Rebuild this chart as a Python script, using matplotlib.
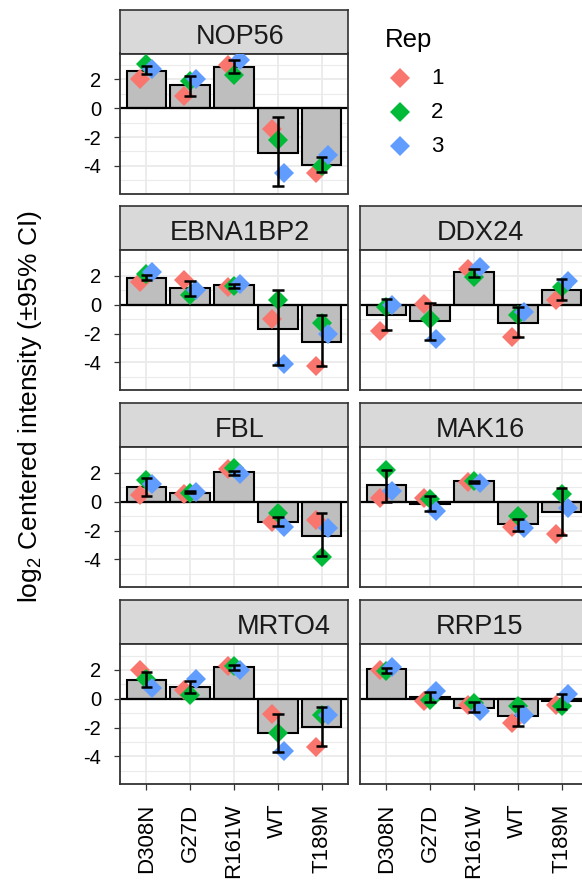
import matplotlib
matplotlib.use("Agg")
import matplotlib.pyplot as plt
import numpy as np

plt.rcParams['font.family'] = ['Liberation Sans', 'DejaVu Sans']
plt.rcParams['mathtext.fontset'] = 'custom'
plt.rcParams['mathtext.rm'] = 'Liberation Sans'
plt.rcParams['mathtext.it'] = 'Liberation Sans:italic'
plt.rcParams['mathtext.default'] = 'regular'

# ---------------- data ----------------
mutants = ['D308N', 'G27D', 'R161W', 'WT', 'T189M']
genes = ['NOP56', 'EBNA1BP2', 'DDX24', 'FBL', 'MAK16', 'MRTO4', 'RRP15']
reps = ['1', '2', '3']

bar_NOP56 = [2.58, 1.63, 2.86, -3.12, -3.93]
lo_NOP56 = [2.35, 0.88, 2.44, -5.40, -4.42]
hi_NOP56 = [2.93, 2.26, 3.33, -0.63, -3.37]
r1_NOP56 = [2.05, 0.88, 2.98, -1.44, -4.47]
r2_NOP56 = [3.05, 1.88, 2.28, -2.19, -4.00]
r3_NOP56 = [2.74, 2.05, 3.33, -4.47, -3.23]

bar_EBNA1BP2 = [1.88, 1.16, 1.35, -1.67, -2.56]
lo_EBNA1BP2 = [1.70, 0.60, 1.19, -4.19, -4.28]
hi_EBNA1BP2 = [2.05, 1.63, 1.47, 1.05, -0.70]
r1_EBNA1BP2 = [1.58, 1.70, 1.23, -0.98, -4.28]
r2_EBNA1BP2 = [2.12, 0.65, 1.28, 0.30, -1.28]
r3_EBNA1BP2 = [2.28, 1.00, 1.42, -4.12, -2.02]

bar_DDX24 = [-0.74, -1.14, 2.28, -1.26, 1.05]
lo_DDX24 = [-1.74, -2.44, 1.93, -2.26, 0.30]
hi_DDX24 = [0.42, 0.12, 2.51, -0.16, 1.77]
r1_DDX24 = [-1.79, 0.02, 2.51, -2.26, 0.30]
r2_DDX24 = [-0.16, -0.98, 1.93, -0.74, 1.23]
r3_DDX24 = [-0.05, -2.37, 2.63, -0.50, 1.65]

bar_FBL = [1.03, 0.64, 2.07, -1.38, -2.39]
lo_FBL = [0.39, 0.60, 1.89, -1.66, -3.79]
hi_FBL = [1.68, 0.72, 2.11, -1.03, -0.76]
r1_FBL = [0.46, 0.57, 2.30, -1.38, -1.26]
r2_FBL = [1.49, 0.64, 2.34, -0.80, -3.84]
r3_FBL = [1.26, 0.69, 1.95, -1.72, -1.84]

bar_MAK16 = [1.15, -0.16, 1.45, -1.54, -0.69]
lo_MAK16 = [0.00, -0.64, 1.33, -2.02, -2.30]
hi_MAK16 = [2.18, 0.41, 1.43, -1.20, 0.92]
r1_MAK16 = [0.28, 0.28, 1.38, -1.72, -2.25]
r2_MAK16 = [2.18, 0.18, 1.43, -0.97, 0.57]
r3_MAK16 = [0.74, -0.64, 1.33, -1.84, -0.46]

bar_MRTO4 = [1.33, 0.80, 2.20, -2.35, -1.96]
lo_MRTO4 = [0.80, 0.37, 2.00, -3.72, -3.28]
hi_MRTO4 = [1.84, 1.22, 2.37, -1.05, -0.55]
r1_MRTO4 = [2.00, 0.64, 2.30, -1.08, -3.33]
r2_MRTO4 = [1.38, 0.23, 2.30, -2.40, -1.16]
r3_MRTO4 = [0.77, 1.38, 2.00, -3.60, -1.16]

bar_RRP15 = [2.07, 0.10, -0.64, -1.22, -0.18]
lo_RRP15 = [1.82, -0.23, -0.92, -1.91, -0.69]
hi_RRP15 = [2.12, 0.50, -0.23, -0.53, 0.32]
r1_RRP15 = [2.00, -0.18, -0.41, -1.68, -0.41]
r2_RRP15 = [1.90, -0.07, -0.30, -0.53, -0.53]
r3_RRP15 = [2.23, 0.55, -0.87, -1.10, 0.32]

yticks = [-4, -2, 0, 2]
ytick_labels = ['-4', '-2', '0', '2']

data = {
    'NOP56': (bar_NOP56, lo_NOP56, hi_NOP56, [r1_NOP56, r2_NOP56, r3_NOP56]),
    'EBNA1BP2': (bar_EBNA1BP2, lo_EBNA1BP2, hi_EBNA1BP2, [r1_EBNA1BP2, r2_EBNA1BP2, r3_EBNA1BP2]),
    'DDX24': (bar_DDX24, lo_DDX24, hi_DDX24, [r1_DDX24, r2_DDX24, r3_DDX24]),
    'FBL': (bar_FBL, lo_FBL, hi_FBL, [r1_FBL, r2_FBL, r3_FBL]),
    'MAK16': (bar_MAK16, lo_MAK16, hi_MAK16, [r1_MAK16, r2_MAK16, r3_MAK16]),
    'MRTO4': (bar_MRTO4, lo_MRTO4, hi_MRTO4, [r1_MRTO4, r2_MRTO4, r3_MRTO4]),
    'RRP15': (bar_RRP15, lo_RRP15, hi_RRP15, [r1_RRP15, r2_RRP15, r3_RRP15]),
}

# ---------------- style ----------------
W, H = 582, 881
rep_colors = ['#F8766D', '#00BA38', '#619CFF']
dodge = [-0.14, 0.0, 0.14]
border_col = '#333333'
grid_col = '#EBEBEB'
strip_fill = '#D9D9D9'

fig = plt.figure(figsize=(W / 100, H / 100), dpi=100)
fig.patch.set_facecolor('white')


def px_axes(x0, y0, x1, y1):
    return fig.add_axes([x0 / W, 1 - y1 / H, (x1 - x0) / W, (y1 - y0) / H])


col_x = [120, 360]
panel_w = 228
row_strip_top = [9.5, 206, 403, 600]
strip_h = 44
panel_h = 140

layout = {
    'NOP56': (0, 0), 'EBNA1BP2': (1, 0), 'DDX24': (1, 1),
    'FBL': (2, 0), 'MAK16': (2, 1), 'MRTO4': (3, 0), 'RRP15': (3, 1),
}
strip_text_x = {'MRTO4': 0.719}

x = np.arange(len(mutants))
for gene in genes:
    row, col = layout[gene]
    x0 = col_x[col]
    st = row_strip_top[row]
    # strip
    sax = px_axes(x0, st, x0 + panel_w, st + strip_h)
    sax.set_facecolor(strip_fill)
    sax.set_xticks([]); sax.set_yticks([])
    for s in sax.spines.values():
        s.set_color(border_col); s.set_linewidth(1.2)
    sax.text(strip_text_x.get(gene, 0.5 + 6 / panel_w), 9.5 / strip_h, gene,
             transform=sax.transAxes, ha='center', va='baseline',
             fontsize=19.5, color='#1A1A1A')

    ax = px_axes(x0, st + strip_h, x0 + panel_w, st + strip_h + panel_h)
    ax.set_xlim(-0.6, 4.6)
    ax.set_ylim(-5.92, 3.8)
    ax.set_yticks(yticks)
    ax.set_yticks([-5, -3, -1, 1, 3], minor=True)
    ax.set_xticks(x)
    ax.grid(True, which='major', color=grid_col, linewidth=1.3, zorder=0)
    ax.grid(True, which='minor', axis='y', color=grid_col, linewidth=0.8, zorder=0)
    ax.set_axisbelow(True)
    for s in ax.spines.values():
        s.set_color(border_col); s.set_linewidth(1.3)

    bars, lo, hi, pts = data[gene]
    ax.bar(x, bars, width=0.9, color='#BEBEBE', edgecolor='black',
           linewidth=1.5, zorder=2)
    ax.axhline(0, color='black', linewidth=1.6, zorder=2.5)
    for i, vals in enumerate(pts):
        ax.plot(x + dodge[i], vals, linestyle='none', marker='D',
                markersize=10.5, color=rep_colors[i], markeredgewidth=0, zorder=3 + i * 0.1)
    ax.vlines(x, lo, hi, color='black', linewidth=1.8, zorder=4)
    ax.hlines(lo, x - 0.13, x + 0.13, color='black', linewidth=1.8, zorder=4)
    ax.hlines(hi, x - 0.13, x + 0.13, color='black', linewidth=1.8, zorder=4)

    if col == 0:
        ax.set_yticklabels(ytick_labels)
        ax.tick_params(axis='y', length=4, width=0.9, color=border_col,
                       labelsize=14.5, pad=9.5, labelcolor='black')
    else:
        ax.tick_params(axis='y', length=0, labelleft=False)
    ax.tick_params(axis='y', which='minor', length=0)
    if row == 3:
        ax.set_xticklabels(mutants, rotation=90)
        ax.tick_params(axis='x', length=4, width=0.9, color=border_col,
                       labelsize=16, pad=10, labelcolor='black')
    else:
        ax.tick_params(axis='x', length=0, labelbottom=False)

# y-axis title
fig.text(30 / W, 1 - 407 / H, r'log$_2$ Centered intensity (±95% CI)', rotation=90,
         ha='center', va='center', fontsize=19, color='black')

# legend
lax = px_axes(370, 15, 470, 165)
lax.set_xlim(370, 470)
lax.set_ylim(165, 15)
lax.axis('off')
lax.text(385, 47, 'Rep', ha='left', va='baseline', fontsize=18.5, color='black')
leg_y = [78, 112, 146]
for i, r in enumerate(reps):
    lax.plot([400], [leg_y[i]], linestyle='none', marker='D', markersize=10.5,
             color=rep_colors[i], markeredgewidth=0)
    lax.text(431, leg_y[i], r, ha='left', va='center', fontsize=16, color='black')

fig.savefig('out.png', dpi=100)
